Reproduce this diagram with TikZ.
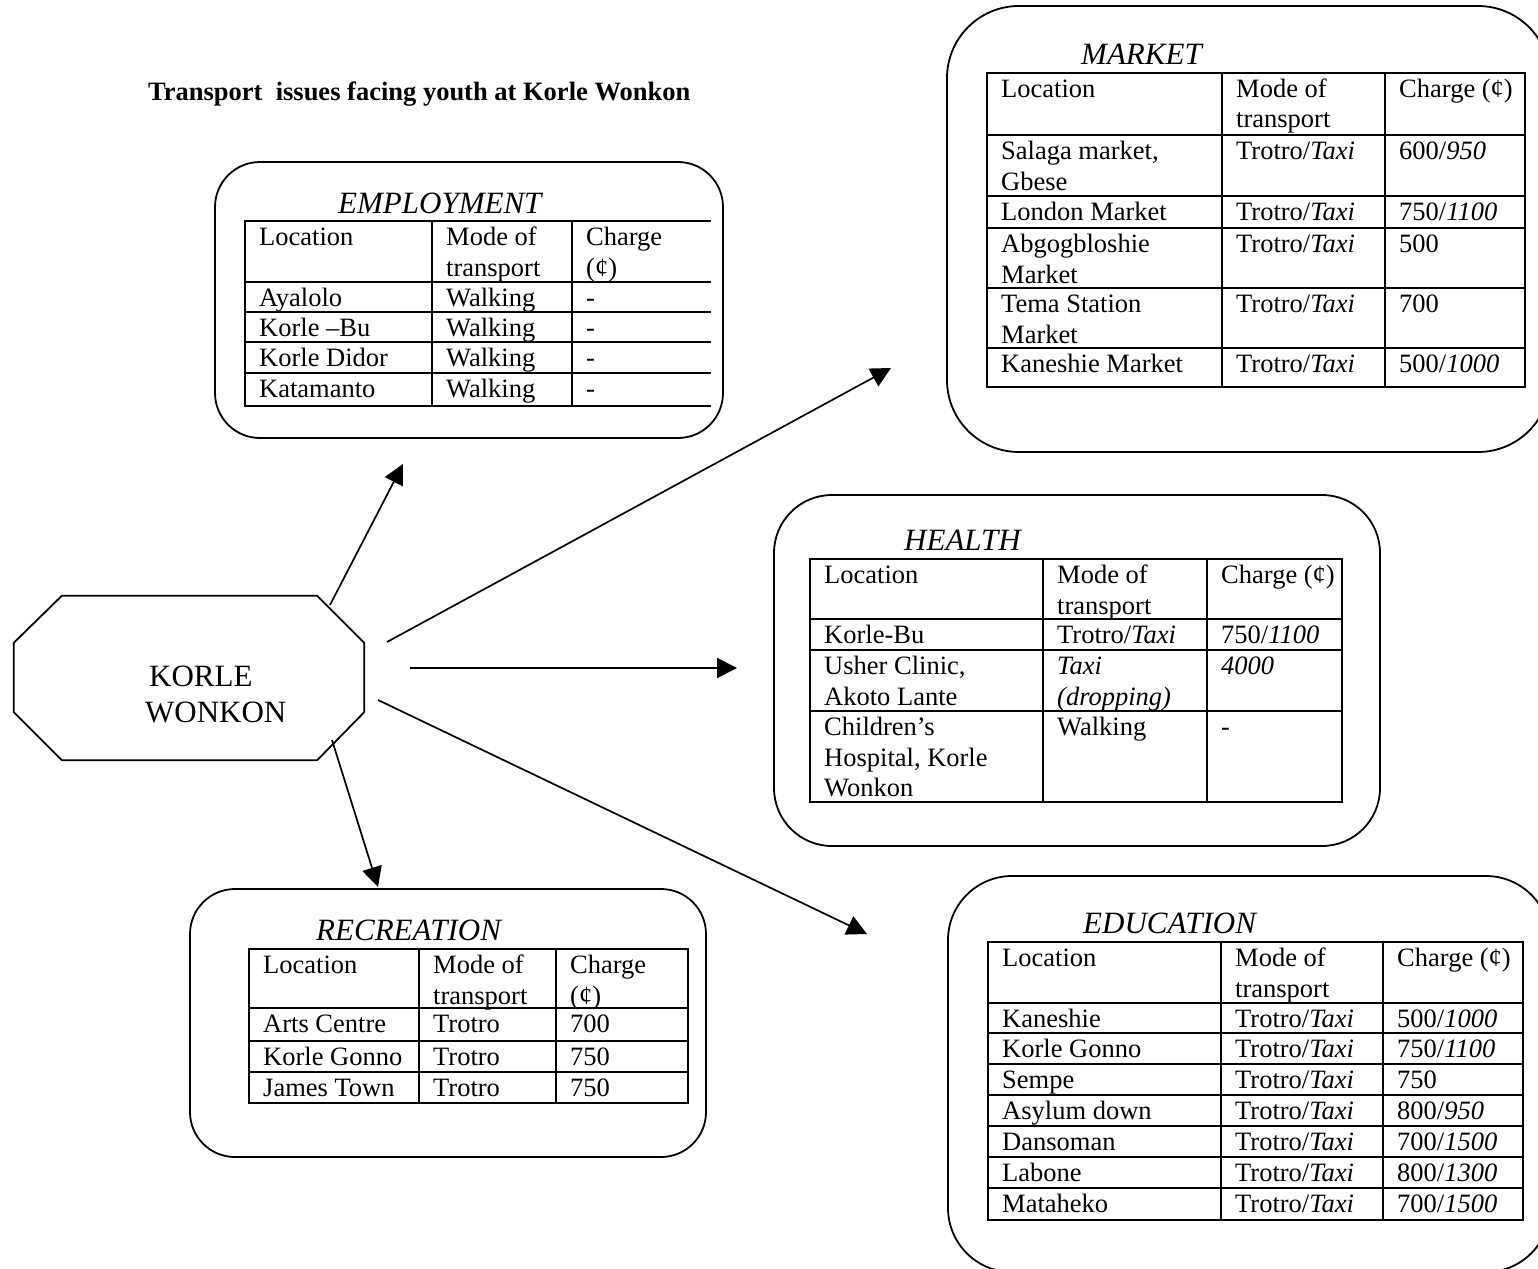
\documentclass[tikz,border=0pt]{standalone}
\usepackage{fontspec}
\setmainfont{Liberation Serif}
\usetikzlibrary{arrows.meta}

\newcounter{cellno}
% one line of table text: [line index]{rule x}{row top y}{text}
\newcommand\tcell[4][0]{\stepcounter{cellno}%
  \node[cell] (cell\arabic{cellno}) at ({#2+14},{#3+24.5+30.5*#1}) {#4};}

\tikzset{
  panel/.style={draw, line width=1.8pt, rounded corners=#1, inner sep=0pt},
  grid/.style={line width=2.2pt, line cap=rect},
  cell/.style={anchor=base west, inner sep=0pt, font=\fontsize{26.5}{30.5}\selectfont},
  heading/.style={anchor=base west, inner sep=0pt, font=\fontsize{31}{36}\selectfont\itshape},
  hub/.style={anchor=base west, inner sep=0pt, font=\fontsize{31}{36}\selectfont},
  outline/.style={line width=1.8pt, line join=miter},
  link/.style={line width=1.7pt, -{Triangle[length=20pt,width=20pt]}},
}

\begin{document}
\begin{tikzpicture}[x=1pt,y=-1pt]
\useasboundingbox (0,0) rectangle (1538,1268);
\fill[white] (0,0) rectangle (1538,1268);

% heading
\node[anchor=base west, inner sep=0pt, font=\fontsize{26.5}{30}\selectfont\bfseries]
  (title) at (148,101) {Transport\ \ issues facing youth at Korle Wonkon};

% central place
\node[minimum width=350pt, minimum height=164pt, inner sep=0pt] (kw) at (189,678) {};
\draw[outline] ([xshift=48pt]kw.north west) -- ([xshift=-47pt]kw.north east)
  -- ([yshift=-47pt]kw.north east) -- ([yshift=48pt]kw.south east)
  -- ([xshift=-47pt]kw.south east) -- ([xshift=48pt]kw.south west)
  -- ([yshift=48pt]kw.south west) -- ([yshift=-47pt]kw.north west) -- cycle;
\node[hub] (kw1) at (149,686) {KORLE};
\node[hub] (kw2) at (145,722) {WONKON};

% rounded panels
\node[panel=45pt, minimum width=508pt, minimum height=276pt] (emp) at (469,300) {};
\node[panel=72pt, minimum width=603pt, minimum height=446pt] (mkt) at (1248.5,229) {};
\node[panel=58pt, minimum width=606pt, minimum height=351pt] (hlth) at (1077,670.5) {};
\node[panel=45pt, minimum width=516pt, minimum height=268pt] (rec) at (448,1023) {};
\node[panel=64pt, minimum width=602pt, minimum height=396pt] (edu) at (1249,1074) {};

% ---------------- EMPLOYMENT
\node[heading] (empt) at (338,213) {EMPLOYMENT};
\foreach \yy in {221.3,282.3,311.7,341.7,373.3,405.7} \draw[grid] (245,\yy) -- (710,\yy);
\foreach \xx in {245,432,572} \draw[grid] (\xx,221.3) -- (\xx,405.7);
\tcell{245}{221.3}{Location}
\tcell{432}{221.3}{Mode of}
\tcell[1]{432}{221.3}{transport}
\tcell{572}{221.3}{Charge}
\tcell[1]{572}{221.3}{(¢)}
\tcell{245}{282.3}{Ayalolo}
\tcell{432}{282.3}{Walking}
\tcell{572}{282.3}{-}
\tcell{245}{311.7}{Korle –Bu}
\tcell{432}{311.7}{Walking}
\tcell{572}{311.7}{-}
\tcell{245}{341.7}{Korle Didor}
\tcell{432}{341.7}{Walking}
\tcell{572}{341.7}{-}
\tcell{245}{373.3}{Katamanto}
\tcell{432}{373.3}{Walking}
\tcell{572}{373.3}{-}

% ---------------- MARKET
\node[heading] (mktt) at (1081,65) {MARKET};
\foreach \yy in {73,135,196,228,288,348,387} \draw[grid] (987,\yy) -- (1525,\yy);
\foreach \xx in {987,1222,1385,1525} \draw[grid] (\xx,73) -- (\xx,387);
\tcell{987}{73}{Location}
\tcell{1222}{73}{Mode of}
\tcell[1]{1222}{73}{transport}
\tcell{1385}{73}{Charge (¢)}
\tcell{987}{135}{Salaga market,}
\tcell[1]{987}{135}{Gbese}
\tcell{1222}{135}{Trotro/\textit{Taxi}}
\tcell{1385}{135}{600/\textit{950}}
\tcell{987}{196}{London Market}
\tcell{1222}{196}{Trotro/\textit{Taxi}}
\tcell{1385}{196}{750/\textit{1100}}
\tcell{987}{228}{Abgogbloshie}
\tcell[1]{987}{228}{Market}
\tcell{1222}{228}{Trotro/\textit{Taxi}}
\tcell{1385}{228}{500}
\tcell{987}{288}{Tema Station}
\tcell[1]{987}{288}{Market}
\tcell{1222}{288}{Trotro/\textit{Taxi}}
\tcell{1385}{288}{700}
\tcell{987}{348}{Kaneshie Market}
\tcell{1222}{348}{Trotro/\textit{Taxi}}
\tcell{1385}{348}{500/\textit{1000}}

% ---------------- HEALTH
\node[heading] (hlt) at (904,550) {HEALTH};
\foreach \yy in {559,619,650,711,802} \draw[grid] (810,\yy) -- (1342,\yy);
\foreach \xx in {810,1043,1207,1342} \draw[grid] (\xx,559) -- (\xx,802);
\tcell{810}{559}{Location}
\tcell{1043}{559}{Mode of}
\tcell[1]{1043}{559}{transport}
\tcell{1207}{559}{Charge (¢)}
\tcell{810}{619}{Korle-Bu}
\tcell{1043}{619}{Trotro/\textit{Taxi}}
\tcell{1207}{619}{750/\textit{1100}}
\tcell{810}{650}{Usher Clinic,}
\tcell[1]{810}{650}{Akoto Lante}
\tcell{1043}{650}{\textit{Taxi}}
\tcell[1]{1043}{650}{\textit{(dropping)}}
\tcell{1207}{650}{\textit{4000}}
\tcell{810}{711}{Children’s}
\tcell[1]{810}{711}{Hospital, Korle}
\tcell[2]{810}{711}{Wonkon}
\tcell{1043}{711}{Walking}
\tcell{1207}{711}{-}

% ---------------- RECREATION
\node[heading] (rect) at (316,940) {RECREATION};
\foreach \yy in {949,1008,1041,1072,1103} \draw[grid] (249,\yy) -- (688,\yy);
\foreach \xx in {249,419,556,688} \draw[grid] (\xx,949) -- (\xx,1103);
\tcell{249}{949}{Location}
\tcell{419}{949}{Mode of}
\tcell[1]{419}{949}{transport}
\tcell{556}{949}{Charge}
\tcell[1]{556}{949}{(¢)}
\tcell{249}{1008}{Arts Centre}
\tcell{419}{1008}{Trotro}
\tcell{556}{1008}{700}
\tcell{249}{1041}{Korle Gonno}
\tcell{419}{1041}{Trotro}
\tcell{556}{1041}{750}
\tcell{249}{1072}{James Town}
\tcell{419}{1072}{Trotro}
\tcell{556}{1072}{750}

% ---------------- EDUCATION
\node[heading] (edut) at (1083,933) {EDUCATION};
\foreach \yy in {942,1003,1033,1064,1095,1126,1157,1188,1220} \draw[grid] (988,\yy) -- (1523,\yy);
\foreach \xx in {988,1221,1383,1523} \draw[grid] (\xx,942) -- (\xx,1220);
\tcell{988}{942}{Location}
\tcell{1221}{942}{Mode of}
\tcell[1]{1221}{942}{transport}
\tcell{1383}{942}{Charge (¢)}
\tcell{988}{1003}{Kaneshie}
\tcell{1221}{1003}{Trotro/\textit{Taxi}}
\tcell{1383}{1003}{500/\textit{1000}}
\tcell{988}{1033}{Korle Gonno}
\tcell{1221}{1033}{Trotro/\textit{Taxi}}
\tcell{1383}{1033}{750/\textit{1100}}
\tcell{988}{1064}{Sempe}
\tcell{1221}{1064}{Trotro/\textit{Taxi}}
\tcell{1383}{1064}{750}
\tcell{988}{1095}{Asylum down}
\tcell{1221}{1095}{Trotro/\textit{Taxi}}
\tcell{1383}{1095}{800/\textit{950}}
\tcell{988}{1126}{Dansoman}
\tcell{1221}{1126}{Trotro/\textit{Taxi}}
\tcell{1383}{1126}{700/\textit{1500}}
\tcell{988}{1157}{Labone}
\tcell{1221}{1157}{Trotro/\textit{Taxi}}
\tcell{1383}{1157}{800/\textit{1300}}
\tcell{988}{1188}{Mataheko}
\tcell{1221}{1188}{Trotro/\textit{Taxi}}
\tcell{1383}{1188}{700/\textit{1500}}

% ---------------- connectors
\coordinate (toEmpA) at (330,605);  \coordinate (toEmpB) at (403,464);
\coordinate (toMktA) at (387,642);  \coordinate (toMktB) at (891,368);
\coordinate (toHltA) at (410,668);  \coordinate (toHltB) at (737,668);
\coordinate (toEduA) at (378,700);  \coordinate (toEduB) at (867,934);
\coordinate (toRecA) at (332,740);  \coordinate (toRecB) at (378,887);
\draw[link] (toEmpA) -- (toEmpB);
\draw[link] (toMktA) -- (toMktB);
\draw[link] (toHltA) -- (toHltB);
\draw[link] (toEduA) -- (toEduB);
\draw[link] (toRecA) -- (toRecB);
\end{tikzpicture}
\end{document}
